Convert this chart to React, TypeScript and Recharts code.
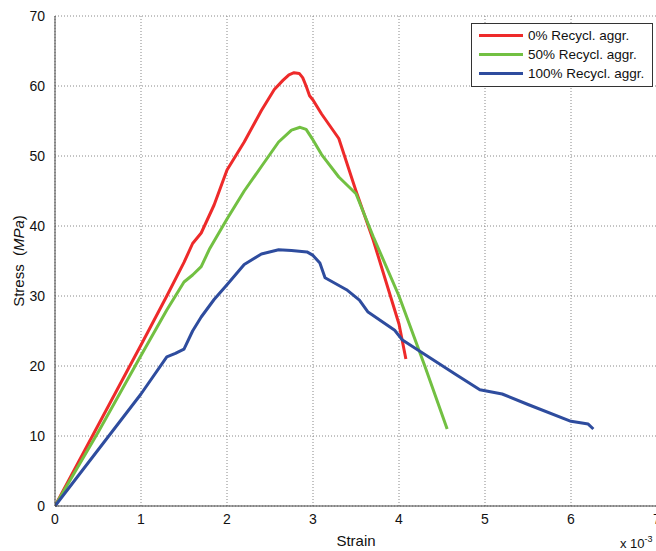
import { CartesianGrid, Label, Line, LineChart, XAxis, YAxis } from "recharts";

// strain values are in units of 10^-3
const strain0 = [0, 0.5, 1.0, 1.3, 1.5, 1.6, 1.7, 1.85, 2.0, 2.2, 2.4, 2.55, 2.65, 2.72, 2.78, 2.84, 2.88, 2.92, 2.96, 3.0, 3.1, 3.3, 3.5, 3.7, 4.0, 4.08];
const stress0 = [0, 11.5, 23, 30, 34.8, 37.5, 39, 43, 48, 52, 56.5, 59.5, 60.8, 61.6, 61.9, 61.8, 61.2, 60, 58.6, 58, 56, 52.5, 45, 38, 26, 21];

const strain50 = [0, 0.5, 1.0, 1.3, 1.5, 1.6, 1.7, 1.8, 2.0, 2.2, 2.4, 2.6, 2.75, 2.85, 2.92, 3.0, 3.1, 3.3, 3.5, 3.7, 4.0, 4.3, 4.56];
const stress50 = [0, 10.5, 21.5, 28, 32, 33, 34.2, 36.8, 41, 45, 48.5, 52, 53.7, 54.1, 53.8, 52.3, 50.2, 47, 44.6, 38.5, 30, 20, 11];

const strain100 = [0, 0.5, 1.0, 1.3, 1.4, 1.5, 1.6, 1.7, 1.85, 2.0, 2.2, 2.4, 2.6, 2.75, 2.93, 3.0, 3.08, 3.14, 3.39, 3.54, 3.64, 3.95, 4.04, 4.67, 4.94, 5.2, 5.5, 6.0, 6.2, 6.26];
const stress100 = [0, 8, 16, 21.3, 21.8, 22.4, 25, 27, 29.5, 31.6, 34.5, 36, 36.6, 36.5, 36.3, 35.8, 34.7, 32.6, 30.9, 29.4, 27.7, 25.1, 23.7, 18.7, 16.6, 16, 14.5, 12.1, 11.7, 11];

const xTicks = [0, 1, 2, 3, 4, 5, 6, 7];
const yTicks = [0, 10, 20, 30, 40, 50, 60, 70];

const seriesNames = ["0% Recycl. aggr.", "50% Recycl. aggr.", "100% Recycl. aggr."];
const seriesColors = ["#ee2a2a", "#72c042", "#2e4c9e"];

const toPoints = (xs: number[], ys: number[]) => xs.map((x, i) => ({ x, y: ys[i] }));

const series = [
  toPoints(strain0, stress0),
  toPoints(strain50, stress50),
  toPoints(strain100, stress100),
];

const FONT = "'Liberation Sans', Arial, sans-serif";

function LegendBox() {
  return (
    <div
      style={{
        position: "absolute",
        left: 471,
        top: 23,
        border: "1px solid #333",
        background: "#fff",
        width: 180,
        padding: "2px 0 3px",
        fontFamily: FONT,
        fontSize: 13.5,
        color: "#111",
      }}
    >
      {seriesNames.map((name, i) => (
        <div key={name} style={{ display: "flex", alignItems: "center", height: 19 }}>
          <div style={{ width: 44, height: 3, background: seriesColors[i], marginLeft: 7, marginRight: 5 }} />
          <span>{name}</span>
        </div>
      ))}
    </div>
  );
}

export default function App() {
  return (
    <div style={{ position: "fixed", left: 0, top: 0, width: 656, height: 551, overflow: "hidden", background: "#fff" }}>
      <LineChart width={670} height={551} margin={{ top: 16, right: 13, bottom: 0, left: 0 }}>
        <CartesianGrid stroke="#888" strokeDasharray="1 2" horizontalValues={yTicks} verticalValues={xTicks} />
        <XAxis
          type="number"
          dataKey="x"
          domain={[0, 7]}
          ticks={xTicks}
          height={45}
          tickLine={false}
          axisLine={{ stroke: "#444" }}
          tick={{ fill: "#111", fontSize: 14, fontFamily: FONT }}
          tickMargin={2}
          allowDataOverflow
        >
          <Label value="Strain" position="insideBottom" offset={5} style={{ fill: "#111", fontSize: 15, fontFamily: FONT }} />
        </XAxis>
        <YAxis
          type="number"
          domain={[0, 70]}
          ticks={yTicks}
          width={55}
          tickLine={false}
          axisLine={{ stroke: "#444" }}
          tick={{ fill: "#111", fontSize: 14, fontFamily: FONT }}
          tickMargin={4}
        />
        {series.map((data, i) => (
          <Line
            key={seriesNames[i]}
            data={data}
            dataKey="y"
            name={seriesNames[i]}
            type="linear"
            stroke={seriesColors[i]}
            strokeWidth={3}
            strokeLinejoin="round"
            dot={false}
            isAnimationActive={false}
          />
        ))}
        <text x={18} y={261} transform="rotate(-90 18 261)" textAnchor="middle" dominantBaseline="central" style={{ fill: "#111", fontSize: 15, fontFamily: FONT }}>
          Stress{"\u00a0\u00a0"}(<tspan fontStyle="italic">MPa</tspan>)
        </text>
        <text x={620} y={548} style={{ fill: "#111", fontSize: 13, fontFamily: FONT }}>
          x 10<tspan dy={-6} fontSize={9}>-3</tspan>
        </text>
      </LineChart>
      <LegendBox />
    </div>
  );
}
